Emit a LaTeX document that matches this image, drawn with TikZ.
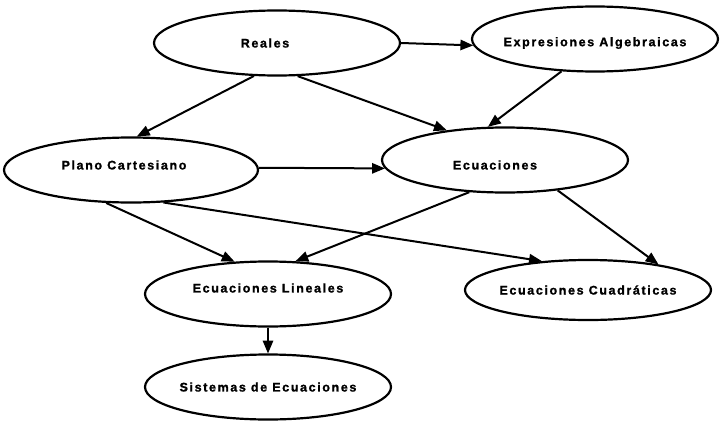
\documentclass[tikz,border=0pt]{standalone}
\usepackage{fontspec}
\setmainfont{Liberation Sans}
\newfontfamily\etiqfont[LetterSpace=13,BoldFeatures={FakeBold=1.2}]{Liberation Sans}
\usetikzlibrary{arrows,shapes.geometric}

\begin{document}
\begin{tikzpicture}[x=1pt,y=-1pt,
	concepto/.style={ellipse,draw,line width=2.2pt,minimum width=246pt,minimum height=65pt,inner sep=0pt},
	flecha/.style={-triangle 45,line width=2pt},
	every label/.style={font={\etiqfont\bfseries\fontsize{12.5pt}{14pt}\selectfont}}]
	\useasboundingbox (0,0) rectangle (720,423);
	\node [concepto,label={[xshift=-12pt]center:Reales}] (reales) at (277,43) {};
	\node [concepto,label={[yshift=-4pt]center:Expresiones Algebraicas}] (expr) at (595,39) {};
	\node [concepto,minimum width=254pt,label={[xshift=-7pt,yshift=5pt]center:Plano Cartesiano}] (plano) at (131,170) {};
	\node [concepto,label={[xshift=-10pt,yshift=-5pt]center:Ecuaciones}] (ecu) at (505,160) {};
	\node [concepto,label={[yshift=6pt]center:Ecuaciones Lineales}] (lin) at (268,294) {};
	\node [concepto,label=center:Sistemas de Ecuaciones] (sis) at (268,387) {};
	\node [concepto,minimum height=60pt,label=center:Ecuaciones Cuadráticas] (cuad) at (588,290) {};
	\draw [flecha] (reales.east) -- (expr.183);
	\draw [flecha] (reales.235) -- (plano.80);
	\draw [flecha] (reales.-58) -- (ecu.153);
	\draw [flecha] (expr.224) -- (ecu.117);
	\draw [flecha] (plano.1) -- (ecu.184);
	\draw [flecha] (plano.233) -- (lin.136);
	\draw [flecha] (plano.-45) -- (cuad.148);
	\draw [flecha] (ecu.222) -- (lin.50);
	\draw [flecha] (ecu.-30) -- (cuad.20);
	\draw [flecha] (lin.south) -- (sis.north);
\end{tikzpicture}
\end{document}
